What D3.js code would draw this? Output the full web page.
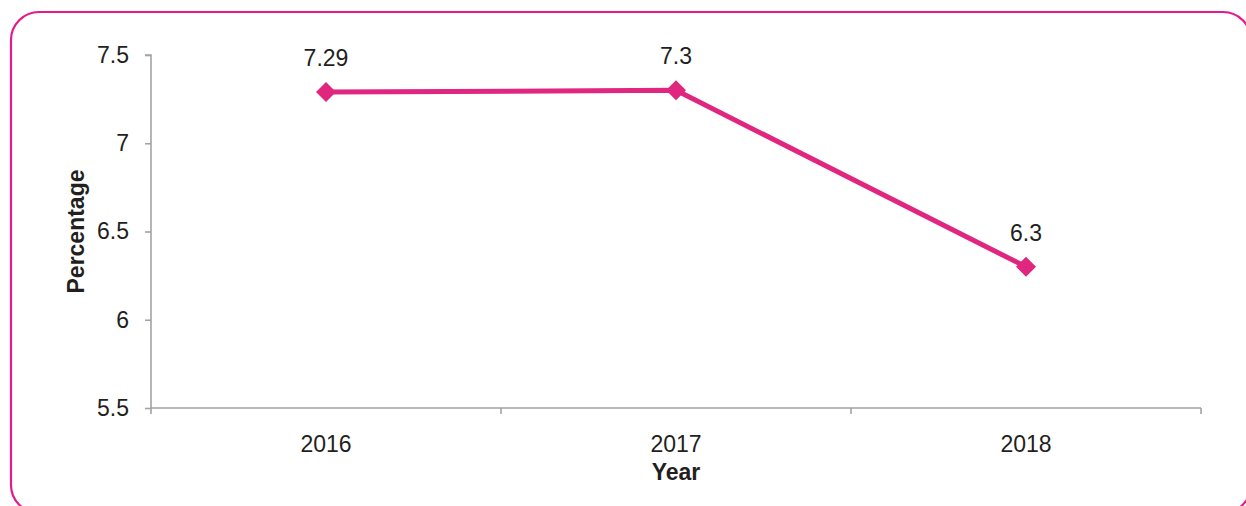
<!DOCTYPE html>
<html><head><meta charset="utf-8">
<script src="https://cdn.jsdelivr.net/npm/d3@7"></script>
<style>html,body{margin:0;padding:0;background:#fff;overflow:hidden}</style>
</head><body>
<svg id="c" width="1246" height="506"></svg>
<script>
const years = ["2016", "2017", "2018"];
const values = [7.29, 7.3, 6.3];
const valueLabels = ["7.29", "7.3", "6.3"];
const yTicks = [5.5, 6, 6.5, 7, 7.5];

const svg = d3.select("#c");
const font = "'Liberation Sans', Arial, sans-serif";
const pink = "#e0267f";
const axisCol = "#a3a3a5";
const textCol = "#231f20";
const fs = 23;

svg.append("rect").attr("x", 11).attr("y", 12).attr("width", 1240).attr("height", 501)
  .attr("rx", 28).attr("fill", "none").attr("stroke", "#e6198a").attr("stroke-width", 2.2);

const x0 = 151, x1 = 1201, yTop = 55, yBot = 408;
const x = d3.scaleBand().domain(years).range([x0, x1]);
const y = d3.scaleLinear().domain([5.5, 7.5]).range([yBot, yTop]);

// y axis
const ya = svg.append("g").attr("transform", `translate(${x0},0)`)
  .call(d3.axisLeft(y).tickValues(yTicks).tickFormat(d => String(d)).tickSize(6).tickPadding(16));
ya.attr("font-size", fs).attr("font-family", font);
ya.select(".domain").attr("stroke", axisCol).attr("stroke-width", 1.6).attr("d", `M-6,${yTop}H0V${yBot}`);
ya.selectAll(".tick line").attr("stroke", axisCol).attr("stroke-width", 1.6);
ya.selectAll(".tick text").attr("fill", textCol);

// x axis
const xa = svg.append("g").attr("transform", `translate(0,${yBot})`)
  .call(d3.axisBottom(x).tickSize(0).tickPadding(28));
xa.attr("font-size", fs).attr("font-family", font);
xa.select(".domain").attr("stroke", axisCol).attr("stroke-width", 1.6).attr("d", `M${x0},0H${x1}`);
xa.selectAll(".tick text").attr("fill", textCol);
const bounds = years.map(d => x(d)).concat([x1]);
xa.selectAll(".sep").data(bounds).enter().append("line").attr("class", "sep")
  .attr("x1", d => d).attr("x2", d => d).attr("y1", 0).attr("y2", 6)
  .attr("stroke", axisCol).attr("stroke-width", 1.6);

const cx = d => x(d) + x.bandwidth() / 2;

// line
const line = d3.line().x((d, i) => cx(years[i])).y(d => y(d));
svg.append("path").datum(values).attr("d", line).attr("fill", "none")
  .attr("stroke", pink).attr("stroke-width", 5).attr("stroke-linejoin", "round");

// markers
svg.selectAll(".m").data(values).enter().append("path").attr("class", "m")
  .attr("d", d3.symbol().type(d3.symbolSquare).size(200))
  .attr("transform", (d, i) => `translate(${cx(years[i])},${y(d)}) rotate(45)`)
  .attr("fill", pink);

// data labels
svg.selectAll(".lbl").data(values).enter().append("text").attr("class", "lbl")
  .attr("x", (d, i) => cx(years[i])).attr("y", d => y(d) - 26)
  .attr("text-anchor", "middle").attr("font-family", font).attr("font-size", fs)
  .attr("fill", textCol).text((d, i) => valueLabels[i]);

// axis titles
svg.append("text").attr("transform", `translate(84,${(yTop + yBot) / 2}) rotate(-90)`)
  .attr("text-anchor", "middle").attr("font-family", font).attr("font-size", fs)
  .attr("font-weight", "bold").attr("fill", textCol).text("Percentage");
svg.append("text").attr("x", (x0 + x1) / 2).attr("y", 480)
  .attr("text-anchor", "middle").attr("font-family", font).attr("font-size", fs)
  .attr("font-weight", "bold").attr("fill", textCol).text("Year");
</script>
</body></html>
